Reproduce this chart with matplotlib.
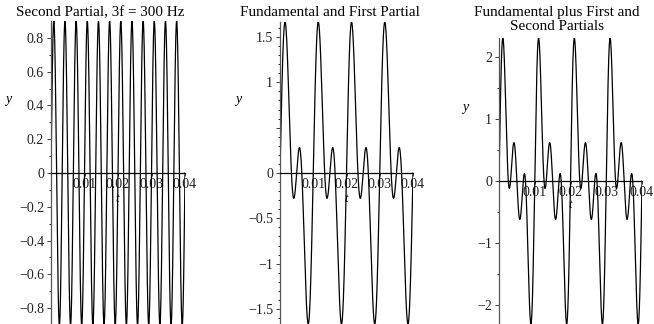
import numpy as np
import matplotlib.pyplot as plt
from matplotlib.ticker import MultipleLocator, FuncFormatter

plt.rcParams['font.family'] = ['Liberation Serif', 'DejaVu Serif']

# frequencies (Hz) and amplitudes summed in each panel
titles = ["Second Partial, 3f = 300 Hz",
          "Fundamental and First Partial",
          "Fundamental plus First and\nSecond Partials"]
panel_freqs = [[300], [100, 200], [100, 200, 300]]
panel_amps = [[0.9], [1.0, 0.9], [1.0, 0.9, 0.9]]
t_range = (0, 0.04)
y_major = [0.2, 0.5, 1.0]
y_minor = [0.1, 0.1, 0.5]
y_hidden = [[], [0.5], []]   # tick labels not printed in the original
x_ticks = [0.01, 0.02, 0.03, 0.04]

W, H = 654, 324
fig = plt.figure(figsize=(W / 100, H / 100), dpi=100)

# axes boxes in pixels: left, right, top, bottom
boxes = [(51, 185, 21, 325), (280, 413, 22, 324), (499, 642, 38, 324)]
title_x = [100, 330, 557]
ylab_pos = [(8, 100), (238, 100), (465, 107)]
tlab_pos = [(117, 199), (346, 199), (570, 205)]


def make_fmt(hidden):
    def f(v, p):
        if any(abs(v - h) < 1e-9 for h in hidden):
            return ""
        return ("%g" % round(v, 6)).replace("-", "\u2212")
    return FuncFormatter(f)


t = np.linspace(t_range[0], t_range[1], 8000)
for i in range(3):
    l, r, tp, b = boxes[i]
    ax = fig.add_axes([l / W, (H - b) / H, (r - l) / W, (b - tp) / H])
    y = np.zeros_like(t)
    for f, a in zip(panel_freqs[i], panel_amps[i]):
        y += a * np.sin(2 * np.pi * f * t)
    ax.plot(t, y, color='black', linewidth=0.9)
    ax.set_xlim(*t_range)
    ax.set_ylim(y.min(), y.max())
    ax.patch.set_visible(False)
    for s in ['top', 'right']:
        ax.spines[s].set_visible(False)
    ax.spines['bottom'].set_position(('data', 0))
    ax.spines['bottom'].set_linewidth(0.9)
    ax.spines['left'].set_linewidth(0.9)
    ax.spines['left'].set_color('#555555')
    ax.set_xticks(x_ticks)
    ax.set_xticklabels(["%g" % v for v in x_ticks])
    ax.yaxis.set_major_locator(MultipleLocator(y_major[i]))
    ax.yaxis.set_minor_locator(MultipleLocator(y_minor[i]))
    ax.yaxis.set_major_formatter(make_fmt(y_hidden[i]))
    ax.tick_params(axis='x', direction='out', length=2.5, width=0.6,
                   pad=1, labelsize=10, colors='#222222')
    ax.tick_params(axis='y', which='major', direction='out', length=3,
                   width=0.6, pad=2, labelsize=10, colors='#222222')
    ax.tick_params(axis='y', which='minor', direction='out', length=1.8,
                   width=0.6)
    fig.text(title_x[i] / W, 1 - 6 / H, titles[i], ha='center',
             va='top', fontsize=10.9, linespacing=1.05)
    fig.text(ylab_pos[i][0] / W, 1 - ylab_pos[i][1] / H, "y",
             style='italic', ha='center', va='center', fontsize=10)
    fig.text(tlab_pos[i][0] / W, 1 - tlab_pos[i][1] / H, "t",
             style='italic', ha='center', va='center', fontsize=9)

fig.savefig("out.png", dpi=100)
